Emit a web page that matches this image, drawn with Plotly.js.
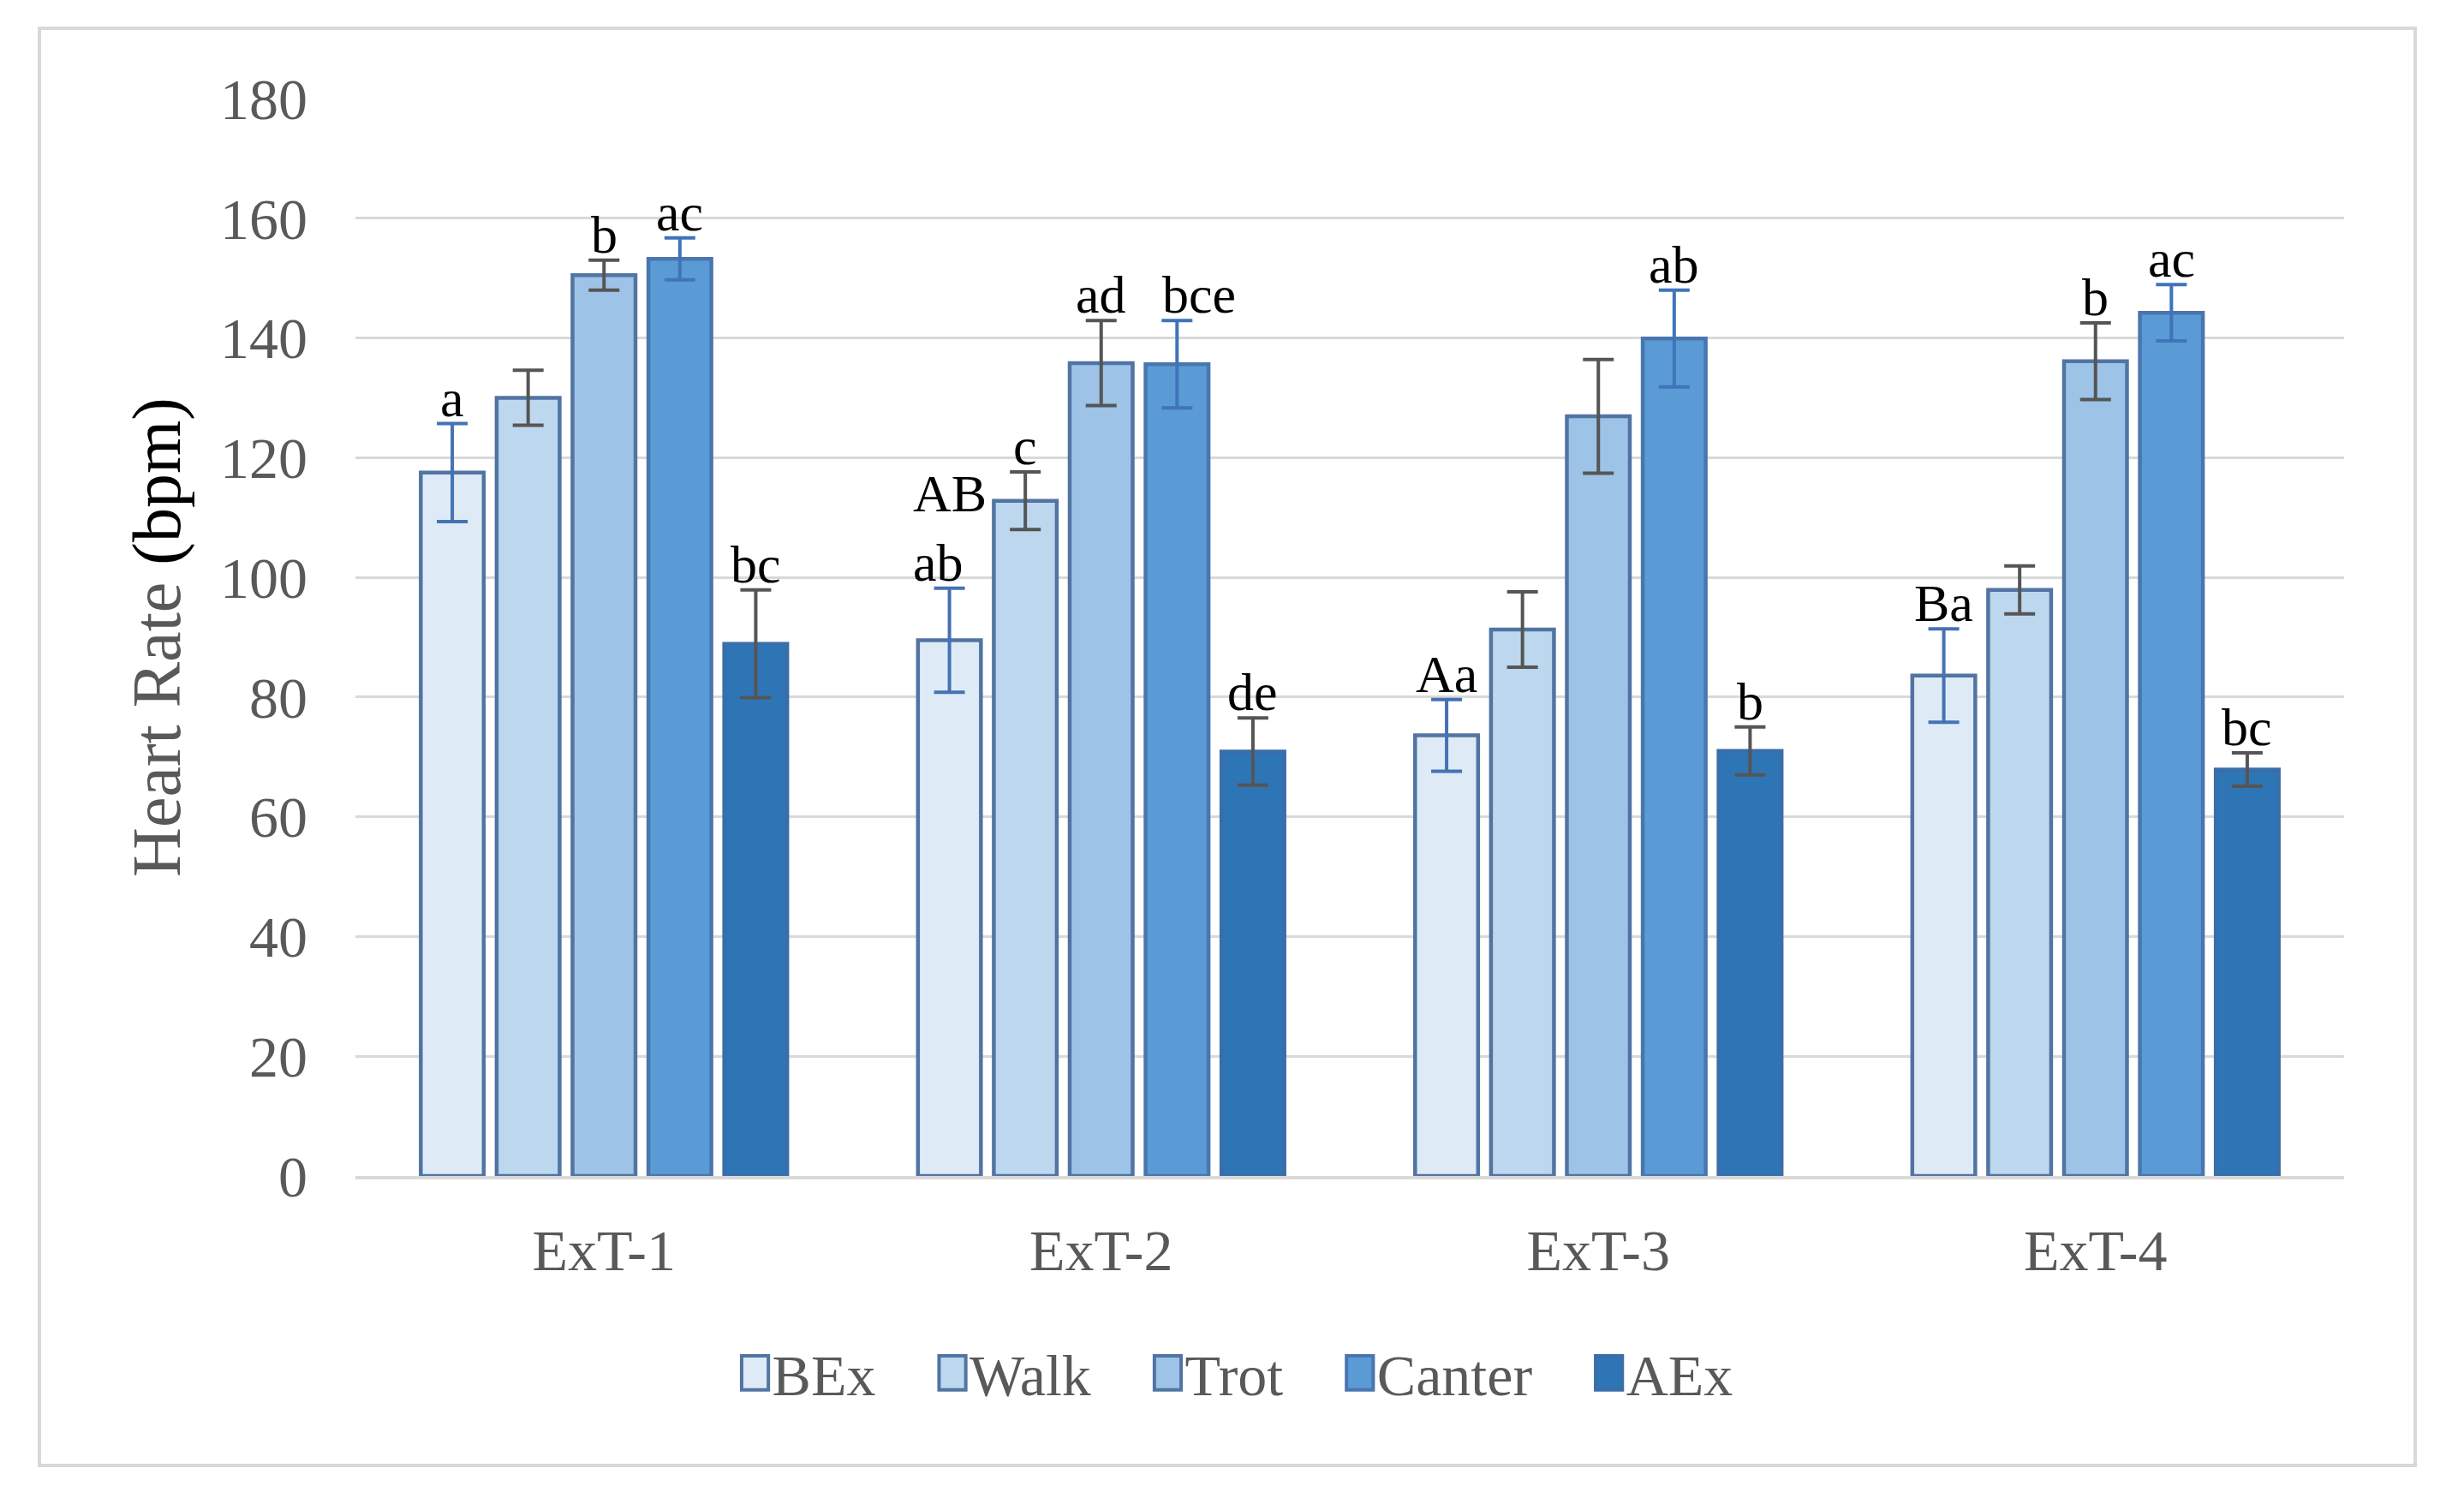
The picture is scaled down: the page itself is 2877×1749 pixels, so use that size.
<!DOCTYPE html>
<html>
<head>
<meta charset="utf-8">
<script src="https://cdn.plot.ly/plotly-3.0.1.min.js"></script>
<style>
  html, body { margin: 0; padding: 0; background: #ffffff; }
  #frame { position: absolute; left: 44px; top: 31px; width: 2778px; height: 1682px;
           box-sizing: border-box; border: 4px solid #d9d9d9; background: #fff; }
  #chart { width: 2770px; height: 1674px; }
</style>
</head>
<body>
<div id="frame"><div id="chart"></div></div>
<script>
const categories = ['ExT-1', 'ExT-2', 'ExT-3', 'ExT-4'];
const seriesNames = ['BEx', 'Walk', 'Trot', 'Canter', 'AEx'];

const bex      = [117.5, 89.5, 73.6, 83.6];
const bexErr   = [8.2, 8.7, 6.0, 7.8];
const walk     = [130.0, 112.8, 91.3, 97.9];
const walkErr  = [4.6, 4.8, 6.3, 4.0];
const trot     = [150.5, 135.8, 126.9, 136.1];
const trotErr  = [2.5, 7.1, 9.5, 6.4];
const canter   = [153.2, 135.6, 139.9, 144.2];
const canterErr= [3.5, 7.3, 8.1, 4.7];
const aex      = [88.9, 70.9, 71.0, 67.9];
const aexErr   = [9.0, 5.6, 4.0, 2.8];

const bexLabels    = ['a', 'AB<br>ab', 'Aa', 'Ba'];
const walkLabels   = ['', 'c', '', ''];
const trotLabels   = ['b', 'ad', '', 'b'];
const canterLabels = ['ac', 'bce', 'ab', 'ac'];
const aexLabels    = ['bc', 'de', 'b', 'bc'];

const values = [bex, walk, trot, canter, aex];
const errors = [bexErr, walkErr, trotErr, canterErr, aexErr];
const labels = [bexLabels, walkLabels, trotLabels, canterLabels, aexLabels];
const fills = ['#DEEBF7', '#BDD7EE', '#9DC3E6', '#5B9BD5', '#2E75B6'];
const outlines = ['#5274A3', '#5274A3', '#5274A3', '#4A76AE', '#3A6EA8'];
const errColors = ['#4472B4', '#555555', '#555555', '#3F74BA', '#555555'];

const W = 2770, H = 1674;
const margin = {l: 367, r: 81, t: 80, b: 336};
const bargap = 0.237, bargroupgap = 0.17;
const serif = 'Liberation Serif, Times New Roman, serif';
const legendPad = '\u00a0\u00a0\u00a0\u2009';

const traces = seriesNames.map((name, i) => ({
  type: 'bar',
  name: i < seriesNames.length - 1 ? name + legendPad : name,
  x: categories,
  y: values[i],
  marker: {color: fills[i], line: {color: outlines[i], width: 4.5}},
  error_y: {type: 'data', array: errors[i], visible: true, color: errColors[i], thickness: 4, width: 18},
  hoverinfo: 'skip'
}));

// letter annotations above the error bars
const plotW = W - margin.l - margin.r;
const slotPx = (1 - bargap) / seriesNames.length * plotW / categories.length;
const annotations = [];
seriesNames.forEach((name, i) => {
  categories.forEach((c, j) => {
    const t = labels[i][j];
    if (!t) return;
    const nudge = (t === 'bce') ? 26 : 0;
    annotations.push({
      x: c, y: values[i][j] + errors[i][j], xref: 'x', yref: 'y',
      text: t, showarrow: false, yanchor: 'bottom', xanchor: 'center', align: 'left',
      xshift: (i - 2) * slotPx + nudge, yshift: -6,
      font: {family: serif, size: 62, color: '#000000'}
    });
  });
});

const layout = {
  width: W, height: H,
  margin: margin,
  paper_bgcolor: '#ffffff', plot_bgcolor: '#ffffff',
  barmode: 'group', bargap: bargap, bargroupgap: bargroupgap,
  showlegend: true,
  legend: {orientation: 'h', x: 0.4436, xanchor: 'center', y: -0.183, yanchor: 'middle',
           font: {family: serif, size: 68, color: '#595959'}, traceorder: 'normal'},
  xaxis: {
    type: 'category', showgrid: false, zeroline: false,
    showline: true, linecolor: '#d9d9d9', linewidth: 4,
    ticks: '', ticklabelstandoff: 24,
    tickfont: {family: serif, size: 68, color: '#595959'}
  },
  yaxis: {
    range: [0, 180], dtick: 20, tick0: 0,
    showgrid: true, gridcolor: '#d9d9d9', gridwidth: 3,
    zeroline: false, showline: false, ticks: '', ticklabelstandoff: 55,
    tickfont: {family: serif, size: 68, color: '#595959'},
    title: {text: '\u00a0\u2009Heart Rate <span style="color:#000000">(bpm)</span>', standoff: 20,
            font: {family: serif, size: 80, color: '#595959'}}
  },
  annotations: annotations
};

Plotly.newPlot('chart', traces, layout, {staticPlot: true, displayModeBar: false}).then(() => {
  document.querySelectorAll('#chart .legendpoints path').forEach(p => {
    const tr = p.getAttribute('transform') || '';
    p.setAttribute('transform', tr + ' scale(2.6,3.3)');
    p.setAttribute('vector-effect', 'non-scaling-stroke');
    p.style.strokeWidth = '4px';
  });
});
</script>
</body>
</html>
